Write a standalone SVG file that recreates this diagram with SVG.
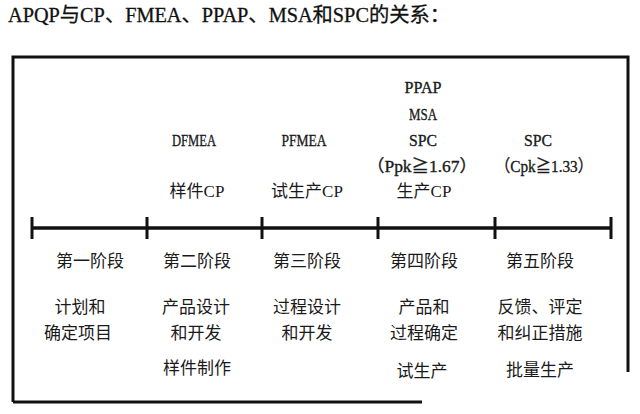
<svg xmlns="http://www.w3.org/2000/svg" width="640" height="414" viewBox="0 0 640 414">
<style>
.t{font-family:"Liberation Serif","Noto Sans CJK SC",serif;fill:#1a1a1a;text-anchor:middle}
.lat{font-size:17px;stroke:#1a1a1a;stroke-width:0.35}
.cn{font-size:17px}
.title{font-family:"Liberation Serif","Noto Sans CJK SC",serif;font-size:20px;fill:#111;stroke:#111;stroke-width:0.3}
.ln{stroke:#111;fill:none;stroke-linecap:butt}
</style>
<rect width="640" height="414" fill="#fff"/>
<text class="title" x="8" y="22" textLength="442" lengthAdjust="spacingAndGlyphs">APQP与CP、FMEA、PPAP、MSA和SPC的关系：</text>
<g id="frame">
<path class="ln" stroke-width="3" d="M13,402 V57 H628 V372 M13,402 H422"/>
</g>
<g id="connectors">
<line class="ln" stroke-width="3.5" x1="32" y1="228" x2="611" y2="228"/>
<g stroke-width="3" class="ln">
<line x1="32" y1="217" x2="32" y2="239"/>
<line x1="147" y1="217" x2="147" y2="239"/>
<line x1="262" y1="217" x2="262" y2="239"/>
<line x1="378" y1="217" x2="378" y2="239"/>
<line x1="495" y1="217" x2="495" y2="239"/>
<line x1="611" y1="217" x2="611" y2="239"/>
</g>
</g>
<g id="stage1">
<text class="t cn" x="90" y="267">第一阶段</text>
<text class="t cn" x="80" y="313">计划和</text>
<text class="t cn" x="78" y="339">确定项目</text>
</g>
<g id="stage2">
<text class="t lat" x="194" y="146" textLength="44" lengthAdjust="spacingAndGlyphs">DFMEA</text>
<text class="t cn" x="197" y="197">样件CP</text>
<text class="t cn" x="197" y="267">第二阶段</text>
<text class="t cn" x="196" y="313">产品设计</text>
<text class="t cn" x="196" y="339">和开发</text>
<text class="t cn" x="197" y="374">样件制作</text>
</g>
<g id="stage3">
<text class="t lat" x="304" y="146" textLength="45" lengthAdjust="spacingAndGlyphs">PFMEA</text>
<text class="t cn" x="307" y="197">试生产CP</text>
<text class="t cn" x="307" y="267">第三阶段</text>
<text class="t cn" x="307" y="313">过程设计</text>
<text class="t cn" x="307" y="339">和开发</text>
</g>
<g id="stage4">
<text class="t lat" x="423" y="93" textLength="37" lengthAdjust="spacingAndGlyphs">PPAP</text>
<text class="t lat" x="423" y="120" textLength="28" lengthAdjust="spacingAndGlyphs">MSA</text>
<text class="t lat" x="423" y="146" textLength="28" lengthAdjust="spacingAndGlyphs">SPC</text>
<text class="t lat" x="422" y="172" textLength="110" lengthAdjust="spacingAndGlyphs">（Ppk≧1.67）</text>
<text class="t cn" x="424" y="197">生产CP</text>
<text class="t cn" x="424" y="267">第四阶段</text>
<text class="t cn" x="424" y="313">产品和</text>
<text class="t cn" x="424" y="339">过程确定</text>
<text class="t cn" x="422" y="377">试生产</text>
</g>
<g id="stage5">
<text class="t lat" x="538" y="146" textLength="28" lengthAdjust="spacingAndGlyphs">SPC</text>
<text class="t lat" x="544" y="172" textLength="98" lengthAdjust="spacingAndGlyphs">（Cpk≧1.33）</text>
<text class="t cn" x="540" y="267">第五阶段</text>
<text class="t cn" x="540" y="313">反馈、评定</text>
<text class="t cn" x="540" y="339">和纠正措施</text>
<text class="t cn" x="540" y="376">批量生产</text>
</g>
</svg>
